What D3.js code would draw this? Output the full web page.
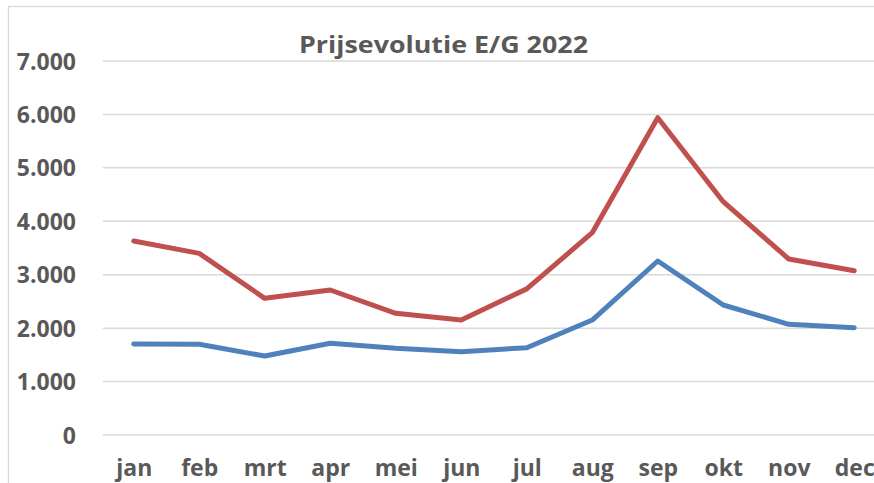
<!DOCTYPE html>
<html><head><meta charset="utf-8">
<script src="https://cdn.jsdelivr.net/npm/d3@7"></script>
<style>html,body{margin:0;padding:0;background:#fff;overflow:hidden}</style>
</head><body><svg id="c" width="874" height="483"></svg>
<script>
const months = ["jan","feb","mrt","apr","mei","jun","jul","aug","sep","okt","nov","dec"];
const seriesBlue = [1703,1700,1478,1716,1622,1559,1634,2152,3257,2433,2072,2008];
const seriesRed = [3631,3400,2558,2714,2278,2152,2735,3786,5939,4367,3294,3075];
const yTicks = [0,1000,2000,3000,4000,5000,6000,7000];
const title = "Prijsevolutie E/G 2022";

const svg = d3.select("#c");
const font = "'Open Sans','Liberation Sans',sans-serif";
// frame
svg.append("rect").attr("x",8.5).attr("y",6.5).attr("width",900).attr("height",500)
  .attr("fill","none").attr("stroke","#d9d9d9").attr("stroke-width",1.3);

const x = d3.scalePoint().domain(months).range([101,887]).padding(0.5);
const y = d3.scaleLinear().domain([0,7000]).range([435,61]);

const fmt = v => v===0 ? "0" : d3.format(",")(v).replace(/,/g,".");

// gridlines
svg.append("g").selectAll("line").data(yTicks).join("line")
  .attr("x1",103).attr("x2",887).attr("y1",d=>y(d)).attr("y2",d=>y(d))
  .attr("stroke","#d9d9d9").attr("stroke-width",1.5);

// y axis labels
const yAxis = d3.axisLeft(y).tickValues(yTicks).tickFormat(fmt).tickSize(0).tickPadding(0);
const gy = svg.append("g").attr("transform","translate(76,0)").call(yAxis);
gy.select(".domain").remove();
gy.selectAll("text").attr("font-family",font).attr("font-weight","bold")
  .attr("font-size",23).attr("fill","#595959").attr("dy","0.35em");

// x axis labels
const xAxis = d3.axisBottom(x).tickSize(0).tickPadding(0);
const gx = svg.append("g").attr("transform","translate(0,460)").call(xAxis);
gx.select(".domain").remove();
gx.selectAll("text").attr("font-family",font).attr("font-weight","bold")
  .attr("font-size",23).attr("fill","#595959").attr("dy","0.71em");

// lines
const line = d3.line().x((d,i)=>x(months[i])).y(d=>y(d));
svg.append("path").datum(seriesRed).attr("d",line).attr("fill","none")
  .attr("stroke","#c0504d").attr("stroke-width",5).attr("stroke-linejoin","round").attr("stroke-linecap","round");
svg.append("path").datum(seriesBlue).attr("d",line).attr("fill","none")
  .attr("stroke","#4f81bd").attr("stroke-width",5).attr("stroke-linejoin","round").attr("stroke-linecap","round");

// title
svg.append("text").attr("x",443.5).attr("y",53).attr("text-anchor","middle")
  .attr("font-family",font).attr("font-weight","bold").attr("font-size",23)
  .attr("fill","#595959").attr("textLength",289).attr("lengthAdjust","spacingAndGlyphs").text(title);
</script></body></html>
